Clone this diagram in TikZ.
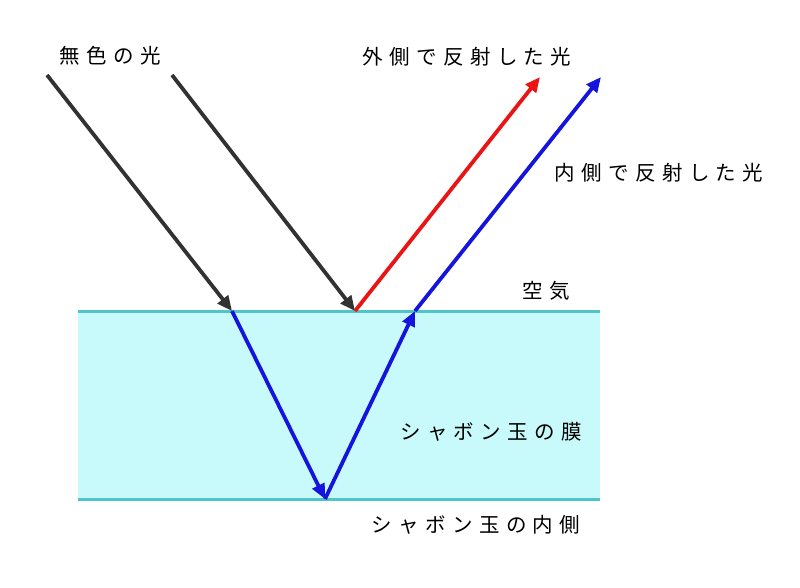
\documentclass[tikz,border=0pt]{standalone}
\usepackage{fontspec}
\usepackage{xcolor}
\usepackage{tikz}
\usetikzlibrary{arrows.meta}
\newfontfamily\jpfont[LetterSpace=31]{Noto Sans CJK JP}
\definecolor{filmfill}{RGB}{200, 250, 251}
\definecolor{filmline}{RGB}{80, 196, 200}
\definecolor{lightgray}{RGB}{50, 50, 50}
\definecolor{rayred}{RGB}{235, 20, 20}
\definecolor{rayblue}{RGB}{20, 20, 220}

\begin{document}
\begin{tikzpicture}[x=1pt, y=-1pt,
  ray/.style={line width=3.8pt, -{Triangle[length=15pt, width=13pt]}},
  label/.style={font=\jpfont\fontsize{20.5}{22}\selectfont, inner sep=0pt},
  surface/.style={filmline, line width=3pt}
]
\useasboundingbox (0,0) rectangle (800,587);
% film of the soap bubble
\fill[filmfill] (78,311) rectangle (600,499);
\coordinate (topL) at (78,311);
\coordinate (topR) at (600,311);
\coordinate (botL) at (78,499);
\coordinate (botR) at (600,499);
\draw[surface] (topL) -- (topR);
\draw[surface] (botL) -- (botR);
% points of the rays
\coordinate (srcA) at (47,75);
\coordinate (srcB) at (172,75);
\coordinate (hitA) at (232,311);
\coordinate (hitB) at (355,311);
\coordinate (down) at (325,499);
\coordinate (exit) at (415,311);
\coordinate (outR) at (540,77);
\coordinate (outB) at (601,77);
% incoming light
\draw[ray, lightgray] (srcA) -- (hitA);
\draw[ray, lightgray] (srcB) -- (hitB);
% reflected light
\draw[ray, rayred] (hitB) -- (outR);
\draw[ray, rayblue] (hitA) -- (down);
\draw[ray, rayblue] (down) -- (exit);
\draw[ray, rayblue] (exit) -- (outB);
% labels
\node[label] (white) at (110,56) {無色の光};
\node[label] (outer) at (467,57) {外側で反射した光};
\node[label] (inner) at (659,173) {内側で反射した光};
\node[label] (air) at (546,291) {空気};
\node[label] (film) at (491,432) {シャボン玉の膜};
\node[label] (inside) at (476,525) {シャボン玉の内側};
\end{tikzpicture}
\end{document}
